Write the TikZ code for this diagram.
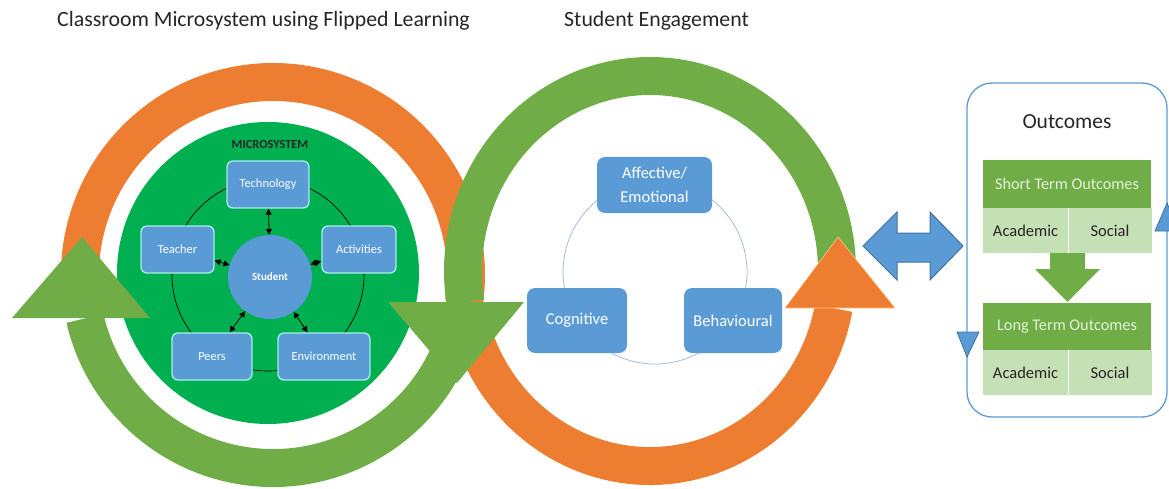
\documentclass[tikz,border=0pt]{standalone}
\usepackage{fontspec}
\setmainfont{Carlito}
\usetikzlibrary{arrows.meta}
\definecolor{orng}{HTML}{ED7D31}
\definecolor{grn}{HTML}{70AD47}
\definecolor{msgreen}{HTML}{00B050}
\definecolor{blu}{HTML}{5B9BD5}
\definecolor{bludark}{HTML}{41719C}
\definecolor{aqua}{HTML}{A6EEE8}
\definecolor{lgreen}{HTML}{C5E0B4}
\definecolor{thinblue}{HTML}{A3BCDA}
\definecolor{txtdark}{HTML}{262626}
\definecolor{paletxt}{HTML}{E2F0D9}
\definecolor{headedge}{HTML}{F6C98E}
\begin{document}
\begin{tikzpicture}[x=1pt,y=-1pt,
  msbox/.style={draw=aqua, line width=1.3pt, fill=blu, rounded corners=6pt, text=white, font=\fontsize{12.4}{14}\selectfont, inner sep=0pt},
  engbox/.style={fill=blu, rounded corners=8pt, text=white, font=\fontsize{16.5}{24}\selectfont, inner sep=0pt, align=center},
  marr/.style={{Triangle[length=6pt,width=6pt]}-{Triangle[length=6pt,width=6pt]}, line width=0.8pt, black},
  cell/.style={fill=lgreen, text=txtdark, font=\fontsize{16.5}{20}\selectfont, inner sep=0pt, minimum height=45pt},
  headbox/.style={fill=grn, text=paletxt, font=\fontsize{16.3}{19}\selectfont, inner sep=0pt, minimum width=168pt},
  ttl/.style={font=\fontsize{21.8}{26}\selectfont, text=txtdark, inner sep=0pt, anchor=base west}
]
\useasboundingbox (0,0) rectangle (1169,489);

% titles
\node[ttl] (t1) at (57,27) {Classroom Microsystem using Flipped Learning};
\node[ttl] (t2) at (564,27) {Student Engagement};

% microsystem disk
\fill[msgreen] (268,273) circle[radius=151];
\draw[black, line width=0.7pt] (268,275) circle[radius=96];
\node[font=\bfseries\fontsize{12.4}{14}\selectfont, text=txtdark, inner sep=0pt] (mstitle) at (270,144) {MICROSYSTEM};
\node[circle, fill=blu, minimum size=84pt, inner sep=0pt, text=white, font=\bfseries\fontsize{11}{13}\selectfont] (stud) at (270,277) {Student};
\node[msbox, minimum width=82pt, minimum height=47pt] (tech) at (268,184.5) {Technology};
\node[msbox, minimum width=73pt, minimum height=47pt] (teach) at (177.5,249.5) {Teacher};
\node[msbox, minimum width=74pt, minimum height=47pt] (act) at (359,249.5) {Activities};
\node[msbox, minimum width=80pt, minimum height=47pt] (peers) at (212,356.5) {Peers};
\node[msbox, minimum width=92pt, minimum height=47pt] (env) at (324,356.5) {Environment};
\draw[marr] (tech) -- (stud);
\draw[marr] (teach) -- (stud);
\draw[marr] (act) -- (stud);
\draw[marr] (peers) -- (stud);
\draw[marr] (env) -- (stud);

% left circle arcs
\draw[orng, line width=38pt] ([shift={(273,275)}]170:193) arc[start angle=170, end angle=368, radius=193];
\draw[grn, line width=38pt] ([shift={(273,275)}]20:193) arc[start angle=20, end angle=167, radius=193];
% middle circle arcs
\draw[orng, line width=38pt] ([shift={(650,271)}]165:187 and 195) arc[start angle=165, end angle=11, x radius=187, y radius=195];
\draw[grn, line width=38pt] ([shift={(650,271)}]0:187 and 195) arc[start angle=0, end angle=-189.2, x radius=187, y radius=195];

% arrow heads
\fill[grn] (12,318) -- (150,318) -- (82,237) -- cycle;
\fill[grn] (388,302) -- (524,302) -- (457,383) -- cycle;
\filldraw[fill=orng, draw=headedge, line width=0.6pt] (785,308) -- (895,308) -- (838,237) -- cycle;

% engagement
\draw[thinblue, line width=0.8pt] (655,272) circle[radius=92];
\node[engbox, minimum width=115pt, minimum height=56pt] (aff) at (654.5,185) {Affective/\\Emotional};
\node[engbox, minimum width=100pt, minimum height=65pt] (cog) at (577,320.5) {Cognitive};
\node[engbox, minimum width=98pt, minimum height=65pt] (beh) at (733,320.5) {Behavioural};

% double arrow
\filldraw[fill=blu, draw=bludark, line width=1pt] (863,246) -- (897,212) -- (897,233) -- (930,233) -- (930,212) -- (963,246) -- (930,280) -- (930,262) -- (897,262) -- (897,280) -- cycle;

% outcomes
\node[draw=blu, line width=1.3pt, rounded corners=25pt, minimum width=200pt, minimum height=334pt, inner sep=0pt] (outbox) at (1067,250) {};
\node[font=\fontsize{21.5}{26}\selectfont, text=txtdark, inner sep=0pt] (outt) at (1067,122) {Outcomes};
\node[headbox, minimum height=48pt] (st) at (1067,184) {Short Term Outcomes};
\node[cell, minimum width=85pt] (sta) at (1025.5,230.5) {Academic};
\node[cell, minimum width=84pt] (sts) at (1110,230.5) {Social};
\node[headbox, minimum height=47pt] (lt) at (1067,326.5) {Long Term Outcomes};
\node[cell, minimum width=85pt] (lta) at (1025.5,372.5) {Academic};
\node[cell, minimum width=84pt] (lts) at (1110,372.5) {Social};
\draw[white, line width=1pt] (sta.north east) -- (sta.south east);
\draw[white, line width=1pt] (lta.north east) -- (lta.south east);
\fill[grn] (1050,253) -- (1085,253) -- (1085,269) -- (1100,269) -- (1067.5,302) -- (1035,269) -- (1050,269) -- cycle;

% small triangles on box border
\filldraw[fill=blu, draw=bludark, line width=0.8pt] (957,332) -- (979,332) -- (967,357) -- cycle;
\filldraw[fill=blu, draw=bludark, line width=0.8pt] (1155,231) -- (1179,231) -- (1167,203) -- cycle;
\end{tikzpicture}
\end{document}
